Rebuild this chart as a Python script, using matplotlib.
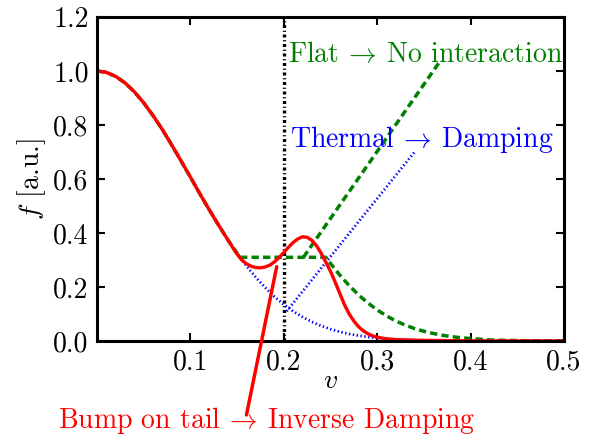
import matplotlib
matplotlib.use('Agg')
import matplotlib.pyplot as plt

plt.rcParams['font.family'] = 'serif'
plt.rcParams['font.serif'] = ['cmr10']
plt.rcParams['mathtext.fontset'] = 'cm'
plt.rcParams['axes.formatter.use_mathtext'] = True
plt.rcParams['font.size'] = 20

# thermal (Maxwellian) distribution
v_th = [0.00, 0.01, 0.02, 0.03, 0.04, 0.05, 0.06, 0.07, 0.08, 0.09,
        0.10, 0.11, 0.12, 0.13, 0.14, 0.15, 0.16, 0.17, 0.18, 0.19,
        0.20, 0.21, 0.22, 0.23, 0.24, 0.25, 0.26, 0.27, 0.28, 0.29,
        0.30, 0.31, 0.32, 0.33, 0.34, 0.35, 0.36, 0.38, 0.40, 0.45, 0.50]
f_th = [1.000, 0.995, 0.980, 0.956, 0.923, 0.882, 0.835, 0.783, 0.726, 0.667,
        0.607, 0.546, 0.487, 0.430, 0.375, 0.325, 0.278, 0.236, 0.198, 0.164,
        0.135, 0.110, 0.089, 0.071, 0.056, 0.044, 0.034, 0.026, 0.020, 0.015,
        0.011, 0.008, 0.006, 0.004, 0.003, 0.002, 0.0015, 0.0007, 0.0003, 0.0, 0.0]

# flat (plateau) distribution
v_flat = [0.00, 0.01, 0.02, 0.03, 0.04, 0.05, 0.06, 0.07, 0.08, 0.09,
          0.10, 0.11, 0.12, 0.13, 0.14, 0.15, 0.153, 0.245, 0.25, 0.26,
          0.27, 0.28, 0.29, 0.30, 0.31, 0.32, 0.33, 0.34, 0.35, 0.36,
          0.37, 0.38, 0.39, 0.40, 0.42, 0.44, 0.46, 0.50]
f_flat = [1.000, 0.995, 0.980, 0.956, 0.923, 0.882, 0.835, 0.783, 0.726, 0.667,
          0.607, 0.546, 0.487, 0.430, 0.375, 0.325, 0.310, 0.310, 0.287, 0.244,
          0.205, 0.171, 0.141, 0.115, 0.093, 0.074, 0.059, 0.046, 0.036, 0.028,
          0.021, 0.016, 0.012, 0.009, 0.004, 0.002, 0.001, 0.0003]

# bump on tail distribution
v_bump = [0.00, 0.01, 0.02, 0.03, 0.04, 0.05, 0.06, 0.07, 0.08, 0.09,
          0.10, 0.11, 0.12, 0.13, 0.14, 0.145, 0.15, 0.155, 0.16, 0.165,
          0.17, 0.175, 0.18, 0.185, 0.19, 0.195, 0.20, 0.205, 0.21, 0.215,
          0.22, 0.225, 0.23, 0.235, 0.24, 0.245, 0.25, 0.255, 0.26, 0.265,
          0.27, 0.275, 0.28, 0.285, 0.29, 0.295, 0.30, 0.31, 0.32, 0.34,
          0.36, 0.40, 0.50]
f_bump = [1.000, 0.995, 0.980, 0.956, 0.923, 0.882, 0.835, 0.783, 0.726, 0.667,
          0.607, 0.546, 0.487, 0.430, 0.375, 0.348, 0.322, 0.300, 0.286, 0.277,
          0.272, 0.271, 0.274, 0.281, 0.293, 0.309, 0.328, 0.347, 0.365, 0.378,
          0.386, 0.384, 0.373, 0.353, 0.325, 0.292, 0.258, 0.218, 0.176, 0.134,
          0.100, 0.074, 0.053, 0.038, 0.027, 0.019, 0.014, 0.008, 0.005, 0.003,
          0.002, 0.0005, 0.0]

# phase-velocity lines
v_line_th = [0.203, 0.340]
f_line_th = [0.110, 0.700]
v_line_flat = [0.221, 0.366]
f_line_flat = [0.310, 1.030]

v_res = 0.2

arrow = r'$\!\rightarrow\!$'

fig = plt.figure(figsize=(5.94, 4.37), dpi=100)
ax = fig.add_axes([0.1633, 0.2197, 0.7862, 0.7414])

ax.axvline(v_res, color='k', lw=2.4, linestyle=(0, (0.9, 0.8, 0.35, 0.8)))

ax.plot(v_th, f_th, color='b', lw=2.0, dashes=(0.5, 0.9))
ax.plot(v_line_th, f_line_th, color='b', lw=2.0, dashes=(0.5, 0.9))
ax.plot(v_flat, f_flat, color='g', lw=2.5, dashes=(2.1, 1.2))
ax.plot(v_line_flat, f_line_flat, color='g', lw=2.5, dashes=(2.1, 1.2))
ax.plot(v_bump, f_bump, color='r', lw=2.4)

ax.text(0.205, 1.035, 'Flat ' + arrow + ' No interaction', color='g',
        ha='left', va='baseline')
ax.text(0.2066, 0.719, 'Thermal ' + arrow + ' Damping', color='b',
        ha='left', va='baseline')

ax.annotate('', xy=(0.1924, 0.275), xytext=(0.160, -0.274), textcoords='data',
            arrowprops=dict(arrowstyle='-', color='r', lw=2.5,
                            shrinkA=0, shrinkB=0),
            annotation_clip=False)
ax.text(0.1815, -0.296, 'Bump on tail ' + arrow + ' Inverse Damping', color='r',
        ha='center', va='center', clip_on=False)

ax.set_xlim(0, 0.5)
ax.set_ylim(0, 1.2)
ax.set_xticks([0.1, 0.2, 0.3, 0.4, 0.5])
ax.set_xticklabels(['0.1', '0.2', '0.3', '0.4', '0.5'])
ax.set_yticks([0.0, 0.2, 0.4, 0.6, 0.8, 1.0, 1.2])
ax.set_yticklabels(['0.0', '0.2', '0.4', '0.6', '0.8', '1.0', '1.2'])
ax.tick_params(direction='in', top=True, right=True, length=6, width=1.5, pad=6)
for s in ax.spines.values():
    s.set_linewidth(2.2)

ax.set_xlabel('$v$', labelpad=-6)
ax.set_ylabel('$f$ [a.u.]', labelpad=4)

fig.savefig('out.png', dpi=100)
